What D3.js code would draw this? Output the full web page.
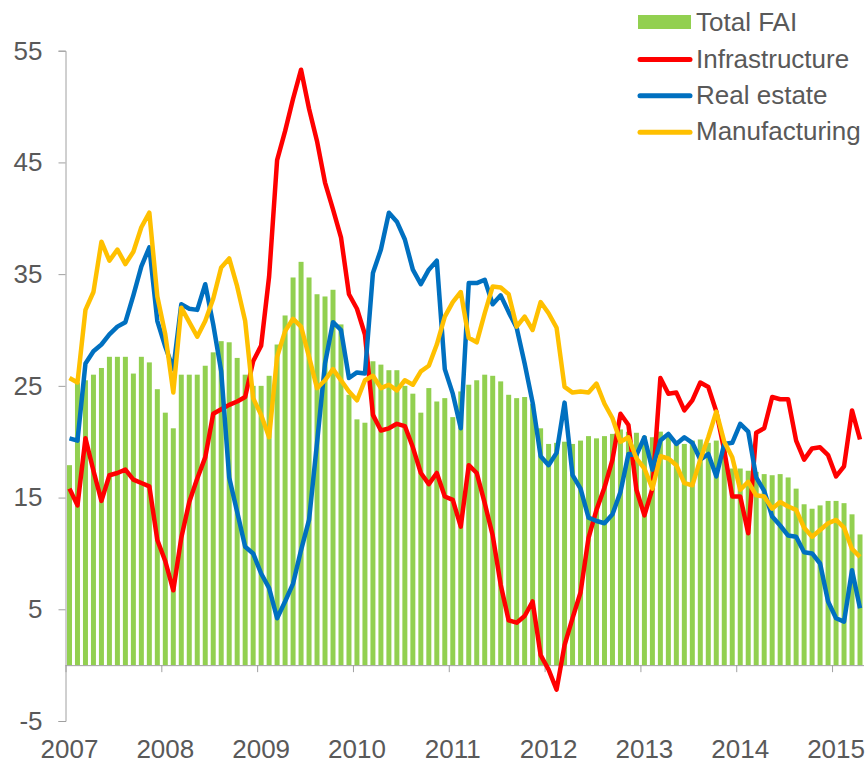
<!DOCTYPE html>
<html>
<head>
<meta charset="utf-8">
<script src="https://cdn.jsdelivr.net/npm/d3@7"></script>
<style>
  body { margin: 0; background: #fff; }
  svg { display: block; font-family: "Liberation Sans", Arial, sans-serif; }
</style>
</head>
<body>
<div id="chart"></div>
<script>
// Year labels on the x axis
const years = [2007, 2008, 2009, 2010, 2011, 2012, 2013, 2014, 2015];

// Y axis tick values
const yTicks = [-5, 5, 15, 25, 35, 45, 55];

// Series names for the legend
const seriesNames = ["Total FAI", "Infrastructure", "Real estate", "Manufacturing"];

// Total FAI (bars), monthly from Jan 2007 to Apr 2015
const totalFAI = [
  17.9, 25.3, 25.5, 26.0, 26.6, 27.6, 27.6, 27.6, 26.1, 27.6, 27.1, 24.7,
  22.6, 21.2, 26.0, 26.0, 26.0, 26.8, 28.0, 29.0, 28.9, 27.5, 26.0, 25.0,
  25.0, 25.9, 28.7, 31.3, 34.7, 36.1, 34.7, 33.2, 33.0, 33.6, 30.5, 24.2,
  22.0, 21.7, 27.2, 26.9, 26.4, 26.4, 25.0, 24.3, 22.6, 24.8, 23.6, 23.9,
  22.2, 24.5, 25.1, 25.5, 26.0, 25.9, 25.4, 24.2, 23.9, 24.0, 23.4, 21.2,
  19.8, 19.9, 20.0, 19.8, 20.1, 20.5, 20.3, 20.5, 20.7, 21.1, 20.9, 20.8,
  20.5, 20.4, 20.9, 20.6, 19.9, 19.8, 20.1, 20.2, 19.9, 20.1, 19.6, 17.6,
  17.6, 17.4, 17.3, 17.1, 17.0, 17.1, 16.8, 15.8, 14.4, 14.0, 14.3, 14.7,
  14.7, 14.5, 13.5, 11.7
];

// Infrastructure
const infrastructure = [
  15.8, 14.3, 20.3, 17.4, 14.7, 17.0, 17.2, 17.5, 16.6, 16.3, 16.0, 11.2,
  9.3, 6.7, 11.4, 14.6, 16.7, 18.6, 22.5, 22.9, 23.3, 23.6, 24.0, 27.2,
  28.6, 34.8, 45.2, 47.8, 50.7, 53.3, 49.8, 46.9, 43.2, 40.8, 38.3, 33.2,
  31.9, 29.6, 22.4, 21.0, 21.2, 21.6, 21.4, 19.5, 17.2, 16.2, 17.2, 15.1,
  14.8, 12.4, 17.9, 17.2, 14.5, 11.6, 7.2, 4.0, 3.8, 4.4, 5.7, 0.9,
  -0.4, -2.2, 1.8, 4.2, 6.5, 11.4, 13.9, 15.9, 18.4, 22.5, 21.5, 15.7,
  13.4, 15.8, 25.7, 24.3, 24.4, 22.8, 23.7, 25.3, 24.9, 22.7, 19.2, 15.1,
  15.1, 11.8, 20.8, 21.2, 24.0, 23.8, 23.8, 20.1, 18.4, 19.4, 19.5, 18.8,
  16.9, 17.8, 22.8, 20.2
];

// Real estate
const realEstate = [
  20.3, 20.1, 27.0, 28.1, 28.7, 29.6, 30.3, 30.7, 33.1, 35.7, 37.4, 30.8,
  28.5, 26.5, 32.3, 31.9, 31.8, 34.1, 30.5, 26.3, 16.8, 13.7, 10.6, 10.0,
  8.2, 6.9, 4.2, 5.7, 7.3, 10.3, 13.0, 19.9, 27.0, 30.7, 30.0, 25.7,
  26.2, 26.1, 35.1, 37.2, 40.5, 39.7, 38.1, 35.4, 34.1, 35.4, 36.2, 26.5,
  24.3, 21.2, 34.2, 34.2, 34.5, 32.3, 33.1, 31.6, 30.2, 27.0, 23.5, 18.7,
  17.9, 19.0, 23.5, 17.0, 15.8, 13.2, 12.9, 12.7, 13.5, 15.5, 18.9, 18.8,
  20.4, 17.5, 20.1, 20.7, 19.8, 20.4, 19.9, 18.4, 18.9, 16.9, 19.8, 19.9,
  21.6, 20.9, 16.8, 15.6, 13.3, 12.5, 11.6, 11.5, 10.1, 10.0, 9.1, 5.7,
  4.2, 3.9, 8.5, 5.1
];

// Manufacturing
const manufacturing = [
  25.7, 25.3, 31.8, 33.4, 37.9, 36.2, 37.2, 35.9, 37.0, 39.2, 40.5, 33.0,
  29.6, 24.4, 32.0, 30.7, 29.4, 30.8, 32.8, 35.6, 36.4, 33.9, 30.8, 23.9,
  22.4, 20.4, 27.6, 29.9, 31.0, 30.3, 27.6, 24.8, 25.5, 26.5, 25.5, 24.5,
  23.7, 25.5, 25.9, 24.8, 25.1, 24.6, 25.5, 25.1, 26.3, 26.8, 28.7, 31.2,
  32.5, 33.4, 29.3, 28.9, 31.5, 33.9, 33.8, 33.2, 30.3, 31.2, 30.0, 32.5,
  31.5, 30.2, 24.9, 24.4, 24.5, 24.4, 25.2, 23.4, 22.1, 20.0, 20.4, 18.5,
  17.6, 15.8, 18.7, 18.5, 17.9, 16.3, 16.1, 18.4, 20.4, 22.7, 20.0, 18.6,
  15.7, 16.4, 15.2, 15.1, 14.0, 14.6, 14.2, 13.9, 12.3, 11.5, 12.1, 12.7,
  13.0, 12.3, 10.4, 9.7
];

// Define the Size of the SVG Container
const width = 868;
const height = 765;

const svg = d3.select("#chart")
  .append("svg")
  .attr("width", width)
  .attr("height", height);

// Monthly categories, one per bar
const months = d3.timeMonth.range(new Date(2007, 0, 1), new Date(2015, 4, 1));

// Scales
const xScale = d3.scaleBand()
  .domain(months)
  .range([65.5, 864])
  .paddingInner(0.375)
  .paddingOuter(0.1875);

const yScale = d3.scaleLinear()
  .domain([-5, 55])
  .range([721, 50.7]);

const step = xScale.step();
const center = d => xScale(d) + xScale.bandwidth() / 2;

const axisColor = "#a0a0a0";
const textColor = "#595959";

// Bars for Total FAI
svg.append("g")
  .selectAll("rect")
  .data(totalFAI)
  .enter()
  .append("rect")
  .attr("x", (d, i) => xScale(months[i]))
  .attr("width", xScale.bandwidth())
  .attr("y", d => yScale(Math.max(0, d)))
  .attr("height", d => Math.abs(yScale(d) - yScale(0)))
  .attr("fill", "#92d050");

// Y axis (plain hyphen for the minus sign, as in the original)
const yAxis = svg.append("g")
  .attr("transform", "translate(65.5,0)")
  .call(d3.axisLeft(yScale)
    .tickValues(yTicks)
    .tickSize(7)
    .tickPadding(16)
    .tickFormat(d => String(d)));
yAxis.select(".domain").attr("stroke", axisColor);
yAxis.selectAll(".tick line").attr("stroke", axisColor);
yAxis.selectAll(".tick text")
  .attr("fill", textColor)
  .style("font-size", "26px");

// X axis line at zero with ticks at the year boundaries
const janMonths = months.filter(m => years.includes(m.getFullYear()) && m.getMonth() === 0);
const xAxis = svg.append("g")
  .attr("transform", "translate(0," + yScale(0) + ")")
  .call(d3.axisBottom(xScale)
    .tickValues(janMonths)
    .tickSize(0)
    .tickPadding(93)
    .tickFormat(d => d.getFullYear()));
xAxis.select(".domain").attr("stroke", axisColor).attr("d", "M65.5,0.5H864");
xAxis.selectAll(".tick text")
  .attr("fill", textColor)
  .attr("dy", 0)
  .style("font-size", "26px");
xAxis.selectAll(".tick")
  .append("line")
  .attr("x1", -step / 2 + 0.5)
  .attr("x2", -step / 2 + 0.5)
  .attr("y1", 0)
  .attr("y2", 7)
  .attr("stroke", axisColor);
xAxis.selectAll(".tick").filter(d => d.getFullYear() === 2007).select("line").remove();

// Lines
const lineSeries = [
  { values: infrastructure, color: "#ff0000" },
  { values: realEstate, color: "#0070c0" },
  { values: manufacturing, color: "#ffc000" }
];

const line = d3.line()
  .x((d, i) => center(months[i]))
  .y(d => yScale(d));

svg.append("g")
  .selectAll("path")
  .data(lineSeries)
  .enter()
  .append("path")
  .attr("d", d => line(d.values))
  .attr("fill", "none")
  .attr("stroke", d => d.color)
  .attr("stroke-width", 4.5)
  .attr("stroke-linejoin", "round");

// Legend
const legendColors = ["#92d050", "#ff0000", "#0070c0", "#ffc000"];
const legend = svg.append("g");
seriesNames.forEach(function(name, i) {
  const cy = 22 + i * 36.4;
  if (i === 0) {
    legend.append("rect")
      .attr("x", 638)
      .attr("y", cy - 7)
      .attr("width", 53)
      .attr("height", 14)
      .attr("fill", legendColors[i]);
  } else {
    legend.append("line")
      .attr("x1", 640)
      .attr("x2", 690)
      .attr("y1", cy + 1)
      .attr("y2", cy + 1)
      .attr("stroke", legendColors[i])
      .attr("stroke-width", 5)
      .attr("stroke-linecap", "round");
  }
  legend.append("text")
    .attr("x", 696)
    .attr("y", cy)
    .attr("dy", "0.35em")
    .attr("fill", textColor)
    .style("font-size", "26px")
    .text(name);
});
</script>
</body>
</html>
